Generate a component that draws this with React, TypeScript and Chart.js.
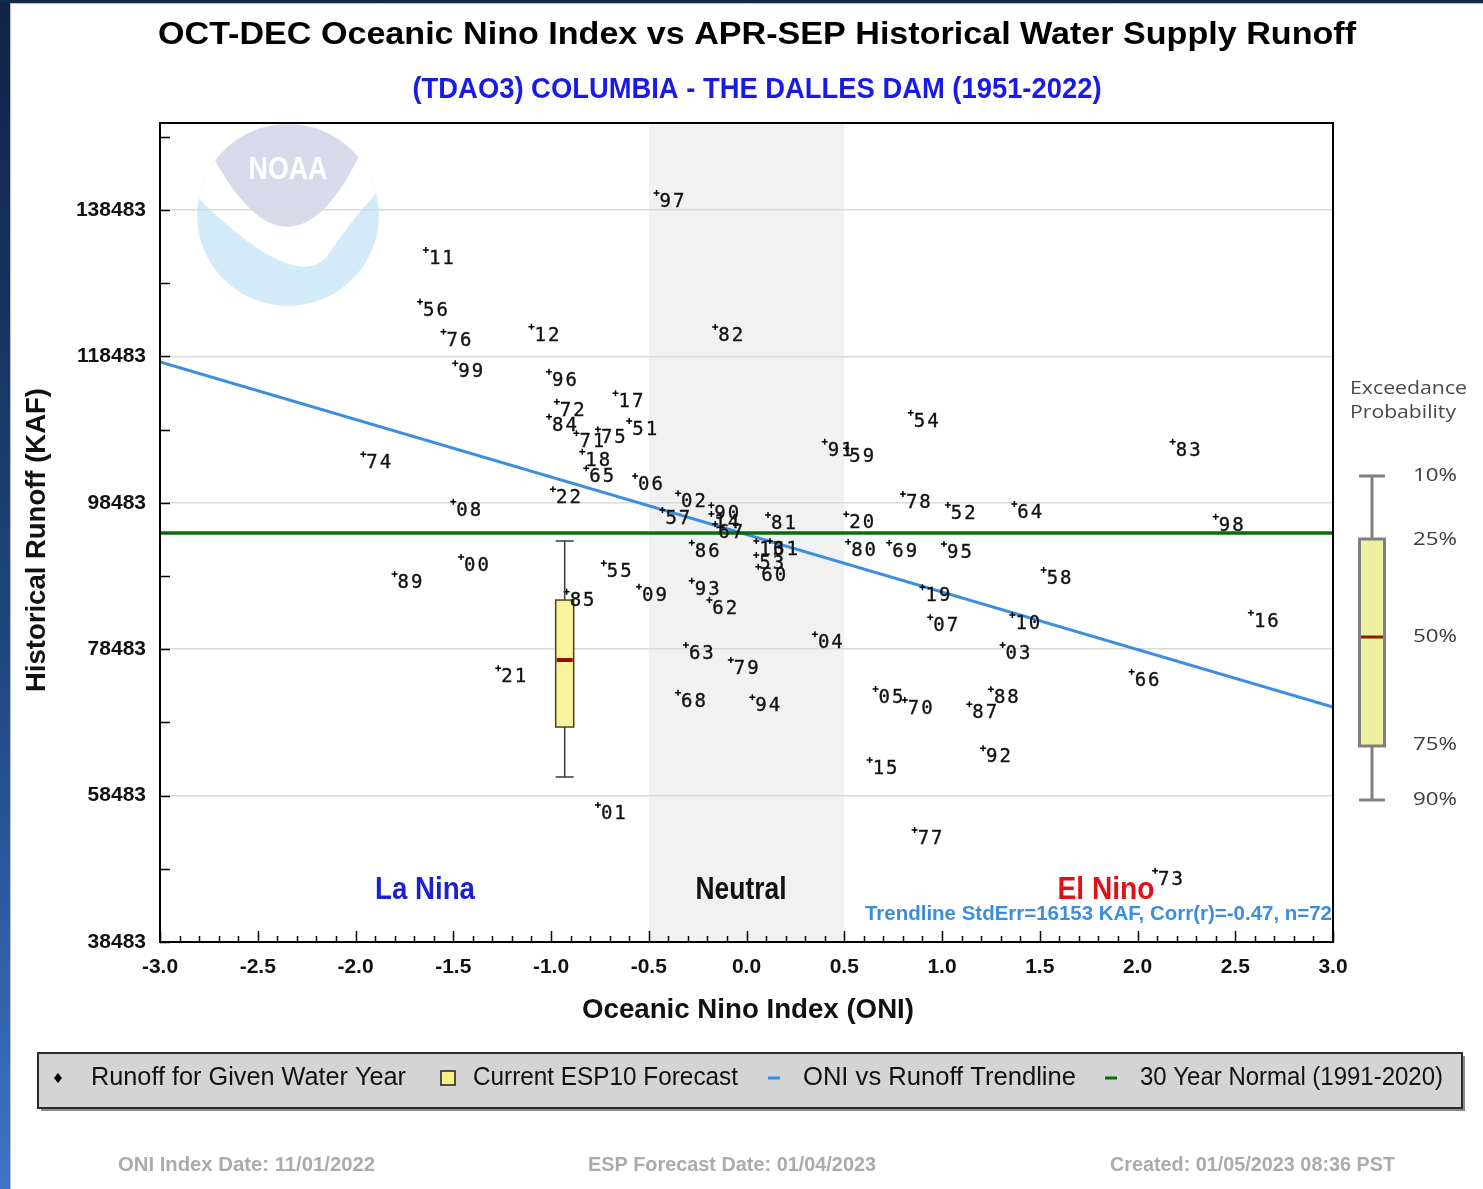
import React, { useEffect, useRef } from 'react';
import { Chart, registerables } from 'chart.js';

Chart.register(...registerables);

const W = 1483;
const H = 1189;

// ---------- DATA ----------
const yearLabels = [
  '51', '52', '53', '54', '55', '56', '57', '58', '59', '60',
  '61', '62', '63', '64', '65', '66', '67', '68', '69', '70',
  '71', '72', '73', '74', '75', '76', '77', '78', '79', '80',
  '81', '82', '83', '84', '85', '86', '87', '88', '89', '90',
  '91', '92', '93', '94', '95', '96', '97', '98', '99', '00',
  '01', '02', '03', '04', '05', '06', '07', '08', '09', '10',
  '11', '12', '13', '14', '15', '16', '17', '18', '19', '20',
  '21', '22',
];
const oniValues = [
  -0.60, 1.03, 0.05, 0.84, -0.73, -1.67, -0.43, 1.52, 0.51, 0.06,
  0.12, -0.19, -0.31, 1.37, -0.82, 1.97, -0.16, -0.35, 0.73, 0.81,
  -0.87, -0.97, 2.09, -1.96, -0.76, -1.55, 0.86, 0.80, -0.08, 0.52,
  0.11, -0.16, 2.18, -1.01, -0.92, -0.28, 1.14, 1.25, -1.80, -0.18,
  0.40, 1.21, -0.28, 0.03, 1.01, -1.01, -0.46, 2.40, -1.49, -1.46,
  -0.76, -0.35, 1.31, 0.35, 0.66, -0.57, 0.94, -1.50, -0.55, 1.36,
  -1.64, -1.10, 0.05, -0.18, 0.63, 2.58, -0.67, -0.84, 0.90, 0.51,
  -1.27, -0.99,
];
const runoffValues = [
  109657, 98182, 91351, 110791, 90217, 125954, 97499, 89302, 105927, 89753,
  93264, 85204, 79056, 98318, 103195, 75409, 95586, 72540, 93031, 71543,
  107977, 112293, 48223, 105108, 108523, 121856, 53783, 99684, 77007, 93168,
  96815, 122498, 106829, 110244, 86337, 93031, 70955, 73004, 88755, 98141,
  106829, 64944, 87840, 71911, 92854, 116392, 140804, 96583, 117539, 91078,
  57199, 99780, 79056, 80518, 73045, 102143, 82840, 98632, 87021, 83154,
  133017, 122539, 93264, 96952, 63346, 83469, 113441, 105463, 86939, 96911,
  75873, 100326,
];

const trendX = [-3.0, 3.0];
const trendY = [117711, 70584];
const normalX = [-3.0, 3.0];
const normalY = [94356, 94356];

// ESP10 forecast box (exceedance 10,25,50,75,90 %)
const espOni = -0.93;
const espExceedance = ['10%', '25%', '50%', '75%', '90%'];
const espValues = [93260, 85200, 77004, 67852, 61022];

const neutralRange = [-0.5, 0.5];

const xTickValues = [-3, -2.5, -2, -1.5, -1, -0.5, 0, 0.5, 1, 1.5, 2, 2.5, 3];
const xTickLabels = ['-3.0', '-2.5', '-2.0', '-1.5', '-1.0', '-0.5', '0.0', '0.5', '1.0', '1.5', '2.0', '2.5', '3.0'];
const yTickValues = [38483, 48483, 58483, 68483, 78483, 88483, 98483, 108483, 118483, 128483, 138483, 148483];
const yTickLabels = ['38483', '', '58483', '', '78483', '', '98483', '', '118483', '', '138483', ''];
const yMin = 38483;
const yMax = 150370;

const titleText = 'OCT-DEC Oceanic Nino Index vs APR-SEP Historical Water Supply Runoff';
const subtitleText = '(TDAO3) COLUMBIA - THE DALLES DAM (1951-2022)';
const xTitle = 'Oceanic Nino Index (ONI)';
const yTitle = 'Historical Runoff (KAF)';
const trendStats = 'Trendline StdErr=16153 KAF, Corr(r)=-0.47, n=72';
const legendItems = ['Runoff for Given Water Year', 'Current ESP10 Forecast', 'ONI vs Runoff Trendline', '30 Year Normal (1991-2020)'];
const footerTexts = ['ONI Index Date: 11/01/2022', 'ESP Forecast Date: 01/04/2023', 'Created: 01/05/2023 08:36 PST'];

// ---------- STYLE ----------
const SANS = '"Liberation Sans", Arial, Helvetica, sans-serif';
const MONO = '"DejaVu Sans Mono", "Liberation Mono", monospace';
const TREND_COLOR = '#3a8de0';
const NORMAL_COLOR = '#0b6b0b';

type TxtOpts = {
  size: number;
  weight?: string;
  family?: string;
  color: string;
  width?: number;
  align?: 'left' | 'center' | 'right';
};

function txt(ctx: CanvasRenderingContext2D, text: string, x: number, y: number, o: TxtOpts) {
  ctx.save();
  ctx.font = `${o.weight || 'normal'} ${o.size}px ${o.family || SANS}`;
  ctx.fillStyle = o.color;
  ctx.textBaseline = 'middle';
  ctx.textAlign = 'left';
  const w = ctx.measureText(text).width;
  const sx = o.width ? o.width / w : 1;
  const dw = w * sx;
  let left = x;
  if (o.align === 'center') left = x - dw / 2;
  else if (o.align === 'right') left = x - dw;
  ctx.translate(left, y);
  ctx.scale(sx, 1);
  ctx.fillText(text, 0, 0);
  ctx.restore();
}

function drawNoaa(ctx: CanvasRenderingContext2D) {
  const cx = 288;
  const cy = 215;
  const r = 91;
  ctx.save();
  ctx.beginPath();
  ctx.arc(cx, cy, r, 0, Math.PI * 2);
  ctx.clip();
  ctx.fillStyle = '#d3ebf8';
  ctx.fillRect(cx - r, cy - r, 2 * r, 2 * r);
  // white bird
  ctx.fillStyle = '#ffffff';
  ctx.beginPath();
  ctx.moveTo(cx - r - 5, cy - r - 5);
  ctx.lineTo(cx - r - 5, cy - 23);
  ctx.quadraticCurveTo(300, 300, 330, 252);
  ctx.quadraticCurveTo(355, 215, cx + r + 5, cy - 30);
  ctx.lineTo(cx + r + 5, cy - r - 5);
  ctx.closePath();
  ctx.fill();
  // lavender dome
  ctx.fillStyle = '#d8daeb';
  ctx.beginPath();
  ctx.moveTo(213, cy - r - 5);
  ctx.lineTo(213, 157);
  ctx.quadraticCurveTo(291, 300, 362, 150);
  ctx.lineTo(cx + r + 5, 150);
  ctx.lineTo(cx + r + 5, cy - r - 5);
  ctx.closePath();
  ctx.fill();
  ctx.restore();
  txt(ctx, 'NOAA', 288, 170, { size: 32, weight: 'bold', color: '#ffffff', width: 79, align: 'center' });
}

const decorPlugin = {
  id: 'decor',
  beforeDraw(chart: any) {
    const { ctx, chartArea: a, scales } = chart;
    ctx.save();
    ctx.fillStyle = '#ffffff';
    ctx.fillRect(0, 0, W, H);
    const g = ctx.createLinearGradient(0, 0, 0, H);
    g.addColorStop(0, '#0f2445');
    g.addColorStop(0.55, '#1f467f');
    g.addColorStop(1, '#3d74c6');
    ctx.fillStyle = g;
    ctx.fillRect(0, 0, 10, H);
    ctx.fillStyle = '#13294b';
    ctx.fillRect(0, 0, W, 3);
    ctx.strokeStyle = '#bdbdbd';
    ctx.lineWidth = 1;
    ctx.beginPath();
    ctx.moveTo(10.5, 3);
    ctx.lineTo(10.5, H);
    ctx.moveTo(10, 3.5);
    ctx.lineTo(W, 3.5);
    ctx.stroke();
    // neutral band
    const x0 = scales.x.getPixelForValue(neutralRange[0]);
    const x1 = scales.x.getPixelForValue(neutralRange[1]);
    ctx.fillStyle = '#f1f1f1';
    ctx.fillRect(x0, a.top, x1 - x0, a.bottom - a.top);
    ctx.restore();
    drawNoaa(ctx);
  },
  afterDatasetsDraw(chart: any) {
    const { ctx, chartArea: a, scales } = chart;
    const xs = scales.x;
    const ys = scales.y;
    // ESP10 box plot
    ctx.save();
    const bx = xs.getPixelForValue(espOni);
    const half = 9;
    const p = espValues.map((v) => ys.getPixelForValue(v));
    ctx.strokeStyle = '#3a3a3a';
    ctx.lineWidth = 1.5;
    ctx.beginPath();
    ctx.moveTo(bx, p[0]);
    ctx.lineTo(bx, p[1]);
    ctx.moveTo(bx, p[3]);
    ctx.lineTo(bx, p[4]);
    ctx.moveTo(bx - half, p[0]);
    ctx.lineTo(bx + half, p[0]);
    ctx.moveTo(bx - half, p[4]);
    ctx.lineTo(bx + half, p[4]);
    ctx.stroke();
    ctx.fillStyle = '#f9f29c';
    ctx.fillRect(bx - half, p[1], half * 2, p[3] - p[1]);
    ctx.strokeStyle = '#4d4400';
    ctx.strokeRect(bx - half, p[1], half * 2, p[3] - p[1]);
    ctx.strokeStyle = '#8a1100';
    ctx.lineWidth = 4;
    ctx.beginPath();
    ctx.moveTo(bx - half + 1, p[2]);
    ctx.lineTo(bx + half - 1, p[2]);
    ctx.stroke();
    ctx.restore();

    // year labels
    ctx.save();
    ctx.font = `19px ${MONO}`;
    (ctx as any).letterSpacing = '2px';
    ctx.fillStyle = '#111';
    ctx.strokeStyle = '#111';
    ctx.lineWidth = 0.35;
    ctx.textBaseline = 'middle';
    ctx.textAlign = 'left';
    yearLabels.forEach((lab, i) => {
      const px = xs.getPixelForValue(oniValues[i]);
      const py = ys.getPixelForValue(runoffValues[i]);
      ctx.fillText(lab, px + 3, py + 9);
      ctx.strokeText(lab, px + 3, py + 9);
    });
    ctx.restore();

    // tick marks (inside)
    ctx.save();
    ctx.strokeStyle = '#000';
    ctx.lineWidth = 1.5;
    ctx.beginPath();
    yTickValues.forEach((v) => {
      const y = Math.round(ys.getPixelForValue(v)) + 0.5;
      ctx.moveTo(a.left, y);
      ctx.lineTo(a.left + 10, y);
    });
    for (let i = -30; i <= 30; i++) {
      const x = Math.round(xs.getPixelForValue(i / 10)) + 0.5;
      const len = i % 5 === 0 ? 11 : 6;
      ctx.moveTo(x, a.bottom);
      ctx.lineTo(x, a.bottom - len);
    }
    ctx.stroke();
    // frame
    ctx.lineWidth = 2;
    ctx.strokeStyle = '#000';
    ctx.strokeRect(a.left, a.top, a.right - a.left, a.bottom - a.top);
    ctx.restore();
  },
  afterDraw(chart: any) {
    const { ctx, chartArea: a } = chart;
    // titles
    txt(ctx, titleText, 757, 35, { size: 31, weight: 'bold', color: '#000', width: 1198, align: 'center' });
    txt(ctx, subtitleText, 757, 90, { size: 29, weight: 'bold', color: '#1a1ae8', width: 689, align: 'center' });
    // axis titles
    txt(ctx, xTitle, 748, 1010, { size: 28, weight: 'bold', color: '#111', width: 332, align: 'center' });
    ctx.save();
    ctx.translate(38, 540);
    ctx.rotate(-Math.PI / 2);
    txt(ctx, yTitle, 0, 0, { size: 27, weight: 'bold', color: '#111', width: 304, align: 'center' });
    ctx.restore();
    // region labels
    txt(ctx, 'La Nina', 425, 890, { size: 31, weight: 'bold', color: '#1f1fd2', width: 100, align: 'center' });
    txt(ctx, 'Neutral', 741, 890, { size: 31, weight: 'bold', color: '#111', width: 91, align: 'center' });
    txt(ctx, 'El Nino', 1106, 890, { size: 31, weight: 'bold', color: '#e0101a', width: 97, align: 'center' });
    txt(ctx, trendStats, a.right - 1, 914, { size: 21, weight: 'bold', color: TREND_COLOR, width: 467, align: 'right' });

    // exceedance schematic
    ctx.save();
    txt(ctx, 'Exceedance', 1350, 389, { size: 18, family: '"Open Sans", "DejaVu Sans", sans-serif', color: '#4a4a4a', width: 117 });
    txt(ctx, 'Probability', 1350, 413, { size: 18, family: '"Open Sans", "DejaVu Sans", sans-serif', color: '#4a4a4a', width: 106 });
    const ex = 1372;
    const eh = 12.5;
    const ey = [476, 539, 637, 746, 800];
    ctx.strokeStyle = '#808080';
    ctx.lineWidth = 3;
    ctx.beginPath();
    ctx.moveTo(ex, ey[0]);
    ctx.lineTo(ex, ey[1]);
    ctx.moveTo(ex, ey[3]);
    ctx.lineTo(ex, ey[4]);
    ctx.moveTo(ex - 13, ey[0]);
    ctx.lineTo(ex + 13, ey[0]);
    ctx.moveTo(ex - 13, ey[4]);
    ctx.lineTo(ex + 13, ey[4]);
    ctx.stroke();
    ctx.fillStyle = '#eef0a0';
    ctx.fillRect(ex - eh, ey[1], eh * 2, ey[3] - ey[1]);
    ctx.strokeRect(ex - eh, ey[1], eh * 2, ey[3] - ey[1]);
    ctx.strokeStyle = '#8a1a00';
    ctx.lineWidth = 3;
    ctx.beginPath();
    ctx.moveTo(ex - eh + 1.5, ey[2]);
    ctx.lineTo(ex + eh - 1.5, ey[2]);
    ctx.stroke();
    ctx.restore();
    espExceedance.forEach((lab, i) => {
      const yy = [476, 540, 637, 745, 800][i];
      txt(ctx, lab, 1413, yy, { size: 19, family: '"Open Sans", "DejaVu Sans", sans-serif', color: '#3c3c3c', width: 44 });
    });

    // legend box
    ctx.save();
    ctx.fillStyle = '#8c8c8c';
    ctx.fillRect(41, 1056, 1424, 55);
    ctx.fillStyle = '#d4d4d4';
    ctx.fillRect(38, 1053, 1424, 55);
    ctx.strokeStyle = '#2a2a2a';
    ctx.lineWidth = 2;
    ctx.strokeRect(38, 1053, 1424, 55);
    // diamond
    ctx.fillStyle = '#000';
    ctx.beginPath();
    ctx.moveTo(58, 1073);
    ctx.lineTo(62, 1078);
    ctx.lineTo(58, 1083);
    ctx.lineTo(54, 1078);
    ctx.closePath();
    ctx.fill();
    // yellow square
    ctx.fillStyle = '#f6f08a';
    ctx.fillRect(441, 1071, 14, 14);
    ctx.strokeStyle = '#1e1e1e';
    ctx.lineWidth = 1.5;
    ctx.strokeRect(441, 1071, 14, 14);
    // dashes
    ctx.lineWidth = 3;
    ctx.strokeStyle = TREND_COLOR;
    ctx.beginPath();
    ctx.moveTo(768, 1078);
    ctx.lineTo(780, 1078);
    ctx.stroke();
    ctx.strokeStyle = NORMAL_COLOR;
    ctx.beginPath();
    ctx.moveTo(1105, 1078);
    ctx.lineTo(1117, 1078);
    ctx.stroke();
    ctx.restore();
    const lx = [91, 473, 803, 1140];
    const lw = [315, 265, 273, 303];
    legendItems.forEach((t, i) => {
      txt(ctx, t, lx[i], 1078, { size: 25, color: '#111', width: lw[i] });
    });

    // footer
    const fx = [118, 588, 1110];
    const fw = [257, 288, 285];
    footerTexts.forEach((t, i) => {
      txt(ctx, t, fx[i], 1165, { size: 21, weight: 'bold', color: '#ababab', width: fw[i] });
    });
  },
};

export default function App() {
  const ref = useRef<HTMLCanvasElement | null>(null);

  useEffect(() => {
    if (!ref.current) return;
    const points = yearLabels.map((_, i) => ({ x: oniValues[i], y: runoffValues[i] }));
    const chart = new Chart(ref.current, {
      type: 'scatter',
      data: {
        datasets: [
          {
            label: legendItems[0],
            data: points,
            pointStyle: 'cross',
            pointRadius: 3,
            pointBorderWidth: 1.5,
            borderColor: '#000',
            backgroundColor: '#000',
            order: 0,
          },
          {
            label: legendItems[2],
            data: trendX.map((x, i) => ({ x, y: trendY[i] })),
            showLine: true,
            pointRadius: 0,
            borderColor: TREND_COLOR,
            borderWidth: 3,
            order: 2,
          },
          {
            label: legendItems[3],
            data: normalX.map((x, i) => ({ x, y: normalY[i] })),
            showLine: true,
            pointRadius: 0,
            borderColor: NORMAL_COLOR,
            borderWidth: 3.5,
            order: 1,
          },
        ],
      },
      options: {
        animation: false,
        responsive: false,
        maintainAspectRatio: false,
        events: [],
        layout: { padding: { left: 20, top: 123, right: 150, bottom: 167 } },
        plugins: {
          legend: { display: false },
          title: { display: false },
          tooltip: { enabled: false },
        },
        scales: {
          x: {
            type: 'linear',
            min: -3,
            max: 3,
            afterBuildTicks: (s: any) => {
              s.ticks = xTickValues.map((v) => ({ value: v }));
            },
            afterFit: (s: any) => {
              s.height = 80;
            },
            ticks: {
              callback: (_v: any, i: number) => xTickLabels[i],
              font: { family: SANS, size: 21, weight: 'bold' },
              color: '#111',
              padding: 13,
              maxRotation: 0,
              autoSkip: false,
            },
            grid: { display: false, drawTicks: false },
            border: { display: false },
          },
          y: {
            type: 'linear',
            min: yMin,
            max: yMax,
            afterBuildTicks: (s: any) => {
              s.ticks = yTickValues.map((v) => ({ value: v }));
            },
            afterFit: (s: any) => {
              s.width = 140;
            },
            ticks: {
              callback: (_v: any, i: number) => yTickLabels[i],
              font: { family: SANS, size: 21, weight: 'bold' },
              color: '#111',
              padding: 14,
              autoSkip: false,
            },
            grid: {
              drawTicks: false,
              lineWidth: 1.5,
              color: (c: any) => (c.index !== undefined && yTickLabels[c.index] ? '#d9d9d9' : 'rgba(0,0,0,0)'),
            },
            border: { display: false },
          },
        },
      },
      plugins: [decorPlugin],
    } as any);
    return () => chart.destroy();
  }, []);

  return (
    <div style={{ position: 'fixed', left: 0, top: 0, width: W, height: H, background: '#fff' }}>
      <canvas ref={ref} width={W} height={H} style={{ display: 'block', width: W, height: H }} />
    </div>
  );
}
